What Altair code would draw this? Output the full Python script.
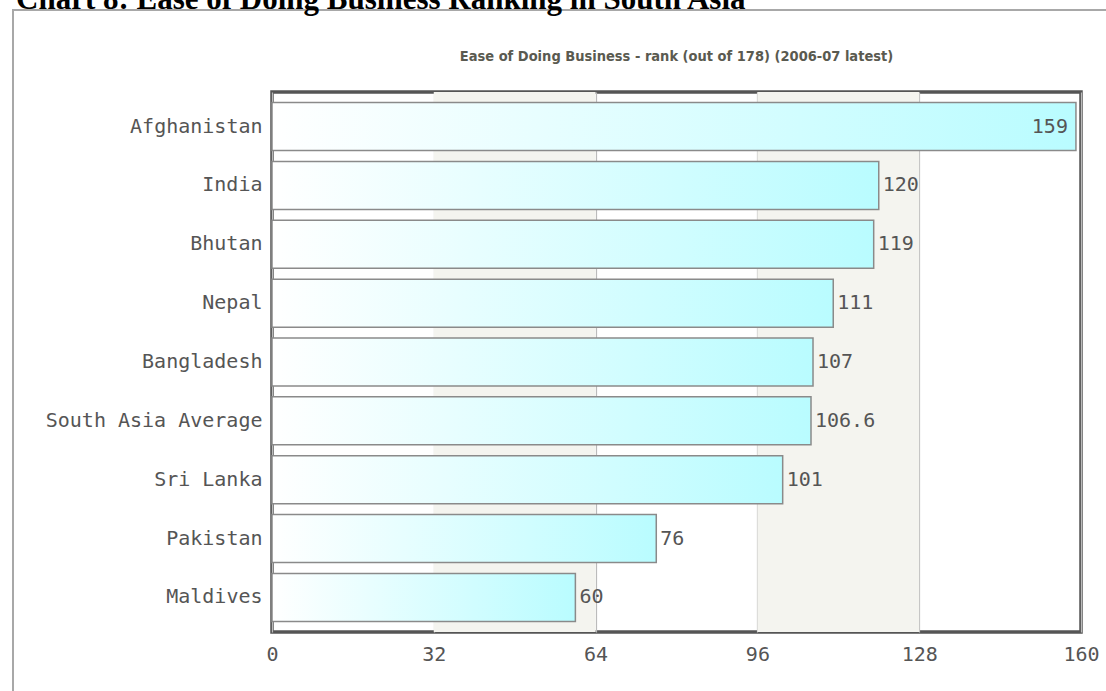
import altair as alt
import pandas as pd

countries = ["Afghanistan", "India", "Bhutan", "Nepal", "Bangladesh",
             "South Asia Average", "Sri Lanka", "Pakistan", "Maldives"]
ranks = [159, 120, 119, 111, 107, 106.6, 101, 76, 60]
x_ticks = [0, 32, 64, 96, 128, 160]
shade_start = [32, 96]
shade_end = [64, 128]

page_title = "Chart 8: Ease of Doing Business Ranking in South Asia"
chart_title = "Ease of Doing Business - rank (out of 178) (2006-07 latest)"

df = pd.DataFrame({"country": countries, "rank": ranks,
                   "label": [f"{v:g}" for v in ranks]})
shade = pd.DataFrame({"a": shade_start, "b": shade_end})

W, H = 809, 540
LEFT, TOP = 272, 92

xscale = alt.Scale(domain=[0, 160], nice=False, zero=True)
yscale = alt.Scale(domain=countries, paddingInner=0.185, paddingOuter=0.18)

label_font = "DejaVu Sans Mono"
FS = 20

shade_layer = alt.Chart(shade).mark_rect(color="#f4f4ef").encode(
    x=alt.X("a:Q", scale=xscale), x2="b:Q")

grad = alt.Gradient(
    gradient="linear", x1=0, x2=1, y1=0, y2=0,
    stops=[alt.GradientStop(color="#ffffff", offset=0),
           alt.GradientStop(color="#b9fcff", offset=1)])

bars = alt.Chart(df).mark_bar(fill=grad, stroke="#8a8a8a", strokeWidth=1.5).encode(
    y=alt.Y("country:N", sort=countries, scale=yscale,
            axis=alt.Axis(title=None, domain=False, ticks=False,
                          labelFont=label_font, labelFontSize=FS,
                          labelColor="#555555", labelPadding=10,
                          labelLimit=400)),
    x=alt.X("rank:Q", scale=xscale,
            axis=alt.Axis(title=None, values=x_ticks, domain=False, ticks=False,
                          grid=True, gridColor="#bbbbbb", gridWidth=1.2,
                          labelFont=label_font, labelFontSize=FS,
                          labelColor="#555555", labelPadding=12,
                          labelFlush=False)),
)

outside = alt.Chart(df).transform_filter("datum.rank < 150").mark_text(
    align="left", baseline="middle", dx=4, font=label_font, fontSize=FS,
    color="#555555").encode(
    y=alt.Y("country:N", sort=countries, scale=yscale),
    x=alt.X("rank:Q", scale=xscale), text="label:N")

inside = alt.Chart(df).transform_filter("datum.rank >= 150").mark_text(
    align="right", baseline="middle", dx=-8, font=label_font, fontSize=FS,
    color="#555555").encode(
    y=alt.Y("country:N", sort=countries, scale=yscale),
    x=alt.X("rank:Q", scale=xscale), text="label:N")

# decorative page frame and cut-off page heading
frame = alt.Chart(df).mark_rect(fill=None, stroke="#a8a8a8", strokeWidth=2).encode(
    x=alt.value(13 - LEFT), x2=alt.value(1106 - LEFT + 20),
    y=alt.value(10 - TOP), y2=alt.value(691 - TOP + 20))

heading = alt.Chart(pd.DataFrame({"t": [page_title]})).mark_text(
    align="left", baseline="alphabetic", font="Liberation Serif",
    fontWeight="bold", fontSize=31, color="#000000").encode(
    x=alt.value(16 - LEFT), y=alt.value(9 - TOP), text="t:N")

ctitle = alt.Chart(pd.DataFrame({"t": [chart_title]})).mark_text(
    align="center", baseline="middle", font="DejaVu Sans Condensed",
    fontWeight="bold", fontSize=14.5, color="#5a5a50").encode(
    x=alt.value(W / 2), y=alt.value(57 - TOP), text="t:N")

chart = alt.layer(shade_layer, bars, outside, inside, frame, heading, ctitle).properties(
    width=W, height=H,
    padding={"left": LEFT, "top": TOP, "right": 1106 - LEFT - W,
             "bottom": 691 - TOP - H},
    autosize=alt.AutoSizeParams(type="none"),
).configure(background="#ffffff").configure_view(stroke="#555555", strokeWidth=3.5)

chart.save("out.html", embed_options={"renderer": "svg", "actions": False})
